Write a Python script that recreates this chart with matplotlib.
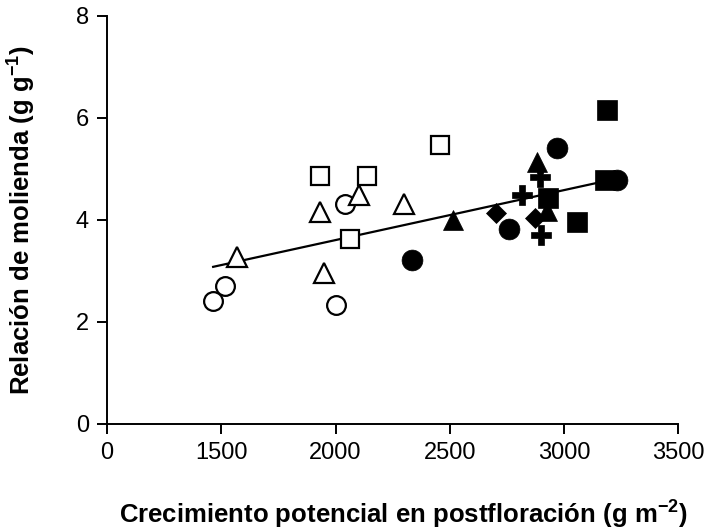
import numpy as np
import matplotlib
matplotlib.use("Agg")
import matplotlib.pyplot as plt

plt.rcParams['font.family'] = ['Liberation Sans', 'DejaVu Sans']
plt.rcParams['mathtext.fontset'] = 'custom'
plt.rcParams['mathtext.rm'] = 'Liberation Sans'
plt.rcParams['mathtext.bf'] = 'Liberation Sans:bold'

# open symbols
open_circle_x = [1464, 1516, 2002, 2042]
open_circle_y = [2.41, 2.71, 2.33, 4.31]
open_tri_x = [1569, 1932, 1950, 2103, 2300]
open_tri_y = [3.27, 4.16, 2.96, 4.49, 4.31]
open_sq_x = [1932, 2138, 2063, 2457]
open_sq_y = [4.86, 4.86, 3.63, 5.47]

# filled symbols
fill_circle_x = [2335, 2759, 2969, 3232]
fill_circle_y = [3.22, 3.82, 5.41, 4.78]
fill_sq_x = [3188, 3057, 2930, 3180]
fill_sq_y = [6.16, 3.96, 4.43, 4.78]
fill_tri_x = [2514, 2882, 2925]
fill_tri_y = [4.00, 5.14, 4.18]
fill_dia_x = [2702, 2873]
fill_dia_y = [4.14, 4.03]
fill_plus_x = [2816, 2895, 2899]
fill_plus_y = [4.49, 4.84, 3.71]

# regression line
fit_intercept = 1.647
fit_slope = 0.000979
fit_x = [1464, 3200]

xtick_vals = [1000, 1500, 2000, 2500, 3000, 3500]
xtick_labels = ['0', '1500', '2000', '2500', '3000', '3500']

fig = plt.figure(figsize=(7.05, 5.28), dpi=100)
ax = fig.add_axes([0.152, 0.197, 0.81, 0.773])

fx = np.array(fit_x)
ax.plot(fx, fit_intercept + fit_slope * fx, color='black', lw=1.6, zorder=1)

op = dict(ls='none', mfc='white', mec='black', mew=1.6, zorder=3)
ax.plot(open_circle_x, open_circle_y, marker='o', ms=13.5, **op)
ax.plot(open_tri_x, open_tri_y, marker='^', ms=14, **op)
ax.plot(open_sq_x, open_sq_y, marker='s', ms=13, **op)

fp = dict(ls='none', color='black', mec='black', mew=0.5, zorder=3)
ax.plot(fill_tri_x, fill_tri_y, marker='^', ms=15, **fp)
ax.plot(fill_dia_x, fill_dia_y, marker='D', ms=10.5, **fp)
ax.plot(fill_plus_x, fill_plus_y, marker='P', ms=14, **fp)
ax.plot(fill_circle_x, fill_circle_y, marker='o', ms=15, **fp)
ax.plot(fill_sq_x, fill_sq_y, marker='s', ms=14.5, **fp)

ax.set_xlim(1000, 3500)
ax.set_ylim(0, 8)
ax.set_xticks(xtick_vals)
ax.set_xticklabels(xtick_labels)
ax.set_yticks([0, 2, 4, 6, 8])

for s in ['top', 'right']:
    ax.spines[s].set_visible(False)
for s in ['left', 'bottom']:
    ax.spines[s].set_linewidth(1.4)
ax.tick_params(direction='out', length=7, width=1.4, labelsize=17, pad=6)

ax.set_xlabel(r'Crecimiento potencial en postfloración (g m$^{\mathbf{-2}}$)',
              fontsize=18.5, fontweight='bold')
ax.set_ylabel(r'Relación de molienda (g g$^{\mathbf{-1}}$)',
              fontsize=18.5, fontweight='bold', labelpad=28)
ax.xaxis.set_label_coords(0.519, -0.178)

fig.savefig('out.png', dpi=100)
